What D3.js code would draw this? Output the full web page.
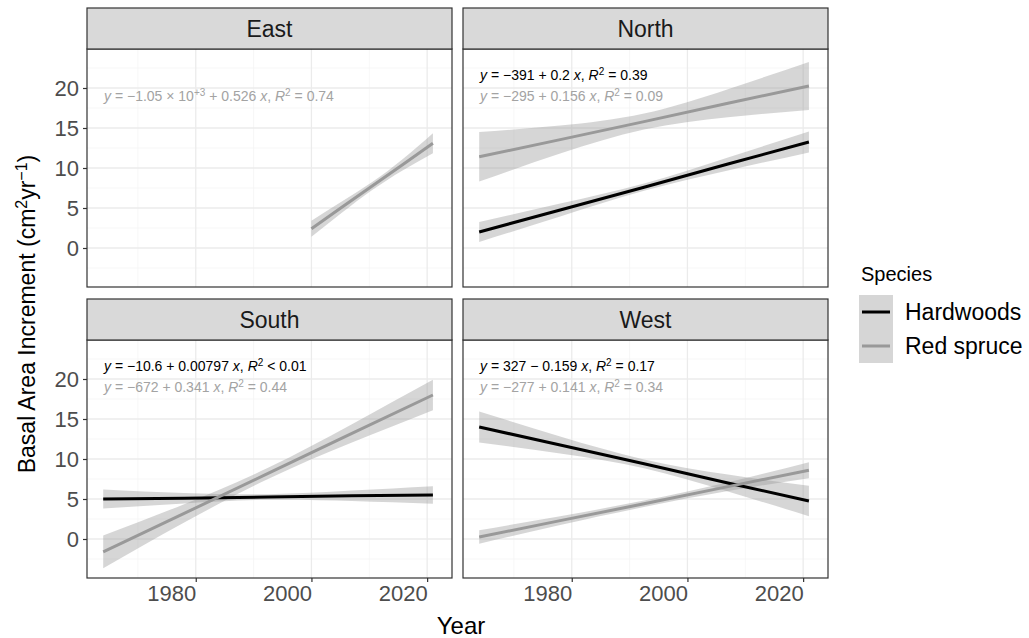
<!DOCTYPE html>
<html>
<head>
<meta charset="utf-8">
<script src="https://cdn.jsdelivr.net/npm/d3@7"></script>
<style>
  body { margin: 0; background: #fff; }
  svg { font-family: "Liberation Sans", Arial, sans-serif; }
</style>
</head>
<body>
<svg id="chart" width="1029" height="638"></svg>
<script>
// facets and species
var panelNames = ["East", "North", "South", "West"];
var speciesNames = ["Hardwoods", "Red spruce"];
var speciesColors = ["#000000", "#999999"];
var xTicks = [1980, 2000, 2020];
var xMinor = [1970, 1990, 2010];
var yTicks = [0, 5, 10, 15, 20];
var yMinor = [-2.5, 2.5, 7.5, 12.5, 17.5, 22.5];

// one row per fitted line at five years along it
var seriesPanel = ["East", "North", "North", "South", "South", "West", "West"];
var seriesSpecies = ["Red spruce", "Hardwoods", "Red spruce", "Hardwoods", "Red spruce", "Hardwoods", "Red spruce"];
var seriesYears = [
  [2000, 2005.25, 2010.5, 2015.75, 2021],
  [1964, 1978, 1992.5, 2007, 2021],
  [1964, 1978, 1992.5, 2007, 2021],
  [1964, 1978, 1992.5, 2007, 2021],
  [1964, 1978, 1992.5, 2007, 2021],
  [1964, 1978, 1992.5, 2007, 2021],
  [1964, 1978, 1992.5, 2007, 2021]
];
var seriesFit = [
  [2.4, 5.1, 7.75, 10.4, 13.1],
  [2.0, 4.75, 7.6, 10.5, 13.25],
  [11.4, 13.55, 15.8, 18.1, 20.25],
  [5.0, 5.1, 5.25, 5.4, 5.5],
  [-1.6, 3.2, 8.2, 13.2, 18.0],
  [14.0, 11.75, 9.4, 7.0, 4.75],
  [0.25, 2.3, 4.4, 6.55, 8.6]
];
var seriesLow = [
  [1.4, 4.4, 7.25, 9.7, 11.85],
  [0.75, 3.95, 7.15, 9.7, 11.95],
  [8.3, 11.8, 14.8, 16.35, 17.25],
  [3.8, 4.45, 4.9, 4.75, 4.4],
  [-3.65, 2.05, 7.5, 12.05, 16.1],
  [12.05, 10.7, 8.85, 5.95, 2.85],
  [-0.6, 1.75, 4.0, 6.0, 7.6]
];
var seriesHigh = [
  [3.4, 5.8, 8.25, 11.1, 14.35],
  [3.25, 5.55, 8.05, 11.3, 14.55],
  [14.5, 15.3, 16.8, 19.85, 23.25],
  [6.2, 5.75, 5.6, 6.05, 6.6],
  [0.45, 4.35, 8.9, 14.35, 19.9],
  [15.95, 12.8, 9.95, 8.05, 6.65],
  [1.1, 2.85, 4.8, 7.1, 9.6]
];
var seriesEquation = [
  "y = −1.05 × 10^{+3} + 0.526 x, R^{2} = 0.74",
  "y = −391 + 0.2 x, R^{2} = 0.39",
  "y = −295 + 0.156 x, R^{2} = 0.09",
  "y = −10.6 + 0.00797 x, R^{2} < 0.01",
  "y = −672 + 0.341 x, R^{2} = 0.44",
  "y = 327 − 0.159 x, R^{2} = 0.17",
  "y = −277 + 0.141 x, R^{2} = 0.34"
];

var svg = d3.select("#chart");

var panelCols = [[87, 452], [463, 828]];
var panelRows = [[49, 287], [340, 578]];
var stripH = 41;

var x = d3.scaleLinear().domain([1961.2, 2024.3]);
var yDomain = [-4.875, 24.875];

panelNames.forEach(function(name, i) {
  var col = panelCols[i % 2], row = panelRows[Math.floor(i / 2)];
  var xs = x.copy().range(col);
  var ys = d3.scaleLinear().domain(yDomain).range([row[1], row[0]]);
  var g = svg.append("g");

  // background grid
  g.selectAll(".ymin").data(yMinor).enter().append("line")
    .attr("x1", col[0]).attr("x2", col[1])
    .attr("y1", function(d) { return ys(d); }).attr("y2", function(d) { return ys(d); })
    .attr("stroke", "#f3f3f3").attr("stroke-width", 0.7);
  g.selectAll(".xmin").data(xMinor).enter().append("line")
    .attr("y1", row[0]).attr("y2", row[1])
    .attr("x1", function(d) { return xs(d); }).attr("x2", function(d) { return xs(d); })
    .attr("stroke", "#f3f3f3").attr("stroke-width", 0.7);
  g.selectAll(".ymaj").data(yTicks).enter().append("line")
    .attr("x1", col[0]).attr("x2", col[1])
    .attr("y1", function(d) { return ys(d); }).attr("y2", function(d) { return ys(d); })
    .attr("stroke", "#ebebeb").attr("stroke-width", 1.3);
  g.selectAll(".xmaj").data(xTicks).enter().append("line")
    .attr("y1", row[0]).attr("y2", row[1])
    .attr("x1", function(d) { return xs(d); }).attr("x2", function(d) { return xs(d); })
    .attr("stroke", "#ebebeb").attr("stroke-width", 1.3);

  // ribbons then lines
  var idx = d3.range(seriesPanel.length).filter(function(k) { return seriesPanel[k] == name; });
  idx.forEach(function(k) {
    var pts = seriesYears[k].map(function(yr, j) {
      return {yr: yr, lo: seriesLow[k][j], hi: seriesHigh[k][j]};
    });
    var area = d3.area().curve(d3.curveNatural)
      .x(function(d) { return xs(d.yr); })
      .y0(function(d) { return ys(d.lo); })
      .y1(function(d) { return ys(d.hi); });
    g.append("path").attr("d", area(pts))
      .attr("fill", "#999999").attr("fill-opacity", 0.4);
  });
  idx.forEach(function(k) {
    var pts = seriesYears[k].map(function(yr, j) { return [yr, seriesFit[k][j]]; });
    var line = d3.line()
      .x(function(d) { return xs(d[0]); })
      .y(function(d) { return ys(d[1]); });
    var sp = speciesNames.indexOf(seriesSpecies[k]);
    g.append("path").attr("d", line(pts))
      .attr("fill", "none").attr("stroke", speciesColors[sp]).attr("stroke-width", 3);
  });

  // equations: hardwoods row on top, red spruce row below
  idx.forEach(function(k) {
    var sp = speciesNames.indexOf(seriesSpecies[k]);
    var t = g.append("text")
      .attr("x", col[0] + 17)
      .attr("y", row[0] + (sp == 0 ? 31 : 51.5))
      .attr("font-size", 14)
      .attr("fill", sp == 0 ? "#000000" : "#a3a3a3");
    seriesEquation[k].split(/(\^\{[^}]*\})/).forEach(function(part) {
      if (!part) return;
      if (part.charAt(0) == "^") {
        t.append("tspan").attr("baseline-shift", "super").attr("font-size", 10)
          .text(part.slice(2, -1));
      } else {
        part.split(/\b([yxR])\b/).forEach(function(p, j) {
          if (!p) return;
          var ts = t.append("tspan").text(p);
          if (j % 2 == 1) ts.attr("font-style", "italic");
        });
      }
    });
  });

  // panel border
  g.append("rect").attr("x", col[0]).attr("y", row[0])
    .attr("width", col[1] - col[0]).attr("height", row[1] - row[0])
    .attr("fill", "none").attr("stroke", "#333333").attr("stroke-width", 1.2);

  // strip
  g.append("rect").attr("x", col[0]).attr("y", row[0] - stripH)
    .attr("width", col[1] - col[0]).attr("height", stripH)
    .attr("fill", "#d9d9d9").attr("stroke", "#333333").attr("stroke-width", 1.2);
  g.append("text").attr("x", (col[0] + col[1]) / 2).attr("y", row[0] - stripH / 2)
    .attr("dy", "0.36em").attr("text-anchor", "middle")
    .attr("font-size", 23).attr("fill", "#1a1a1a").text(name);

  // y axis on left column
  if (i % 2 == 0) {
    var ya = g.append("g").attr("transform", "translate(" + col[0] + ",0)")
      .call(d3.axisLeft(ys).tickValues(yTicks).tickSize(4).tickPadding(4));
    ya.select(".domain").remove();
    ya.selectAll("line").attr("stroke", "#333333").attr("stroke-width", 1.2);
    ya.selectAll("text").attr("font-size", 22).attr("fill", "#4d4d4d")
      .attr("font-family", "Liberation Sans, Arial, sans-serif");
  }
  // x axis on bottom row, labels right-aligned at the ticks
  if (i >= 2) {
    var xa = g.append("g").attr("transform", "translate(0," + row[1] + ")")
      .call(d3.axisBottom(xs).tickValues(xTicks).tickFormat(d3.format("d")).tickSize(4).tickPadding(3));
    xa.select(".domain").remove();
    xa.selectAll("line").attr("stroke", "#333333").attr("stroke-width", 1.2);
    xa.selectAll("text").attr("font-size", 22).attr("fill", "#4d4d4d")
      .attr("text-anchor", "end")
      .attr("font-family", "Liberation Sans, Arial, sans-serif");
  }
});

// axis titles
svg.append("text").attr("x", 461).attr("y", 634).attr("text-anchor", "middle")
  .attr("font-size", 24).text("Year");

var yt = svg.append("text").attr("transform", "translate(35,314) rotate(-90)")
  .attr("text-anchor", "middle").attr("font-size", 23);
yt.append("tspan").text("Basal Area Increment  (cm");
yt.append("tspan").attr("baseline-shift", "super").attr("font-size", 16).text("2");
yt.append("tspan").text("yr");
yt.append("tspan").attr("baseline-shift", "super").attr("font-size", 16).text("−1");
yt.append("tspan").text(")");

// legend
var lg = svg.append("g");
lg.append("text").attr("x", 861).attr("y", 281).attr("font-size", 20).text("Species");
speciesNames.forEach(function(s, i) {
  var ky = 295 + i * 34;
  lg.append("rect").attr("x", 859).attr("y", ky).attr("width", 34).attr("height", 34)
    .attr("fill", "#d6d6d6");
  lg.append("line").attr("x1", 862).attr("x2", 890)
    .attr("y1", ky + 17).attr("y2", ky + 17)
    .attr("stroke", speciesColors[i]).attr("stroke-width", 3);
  lg.append("text").attr("x", 905).attr("y", ky + 17).attr("dy", "0.36em")
    .attr("font-size", 23).text(s);
});
</script>
</body>
</html>
